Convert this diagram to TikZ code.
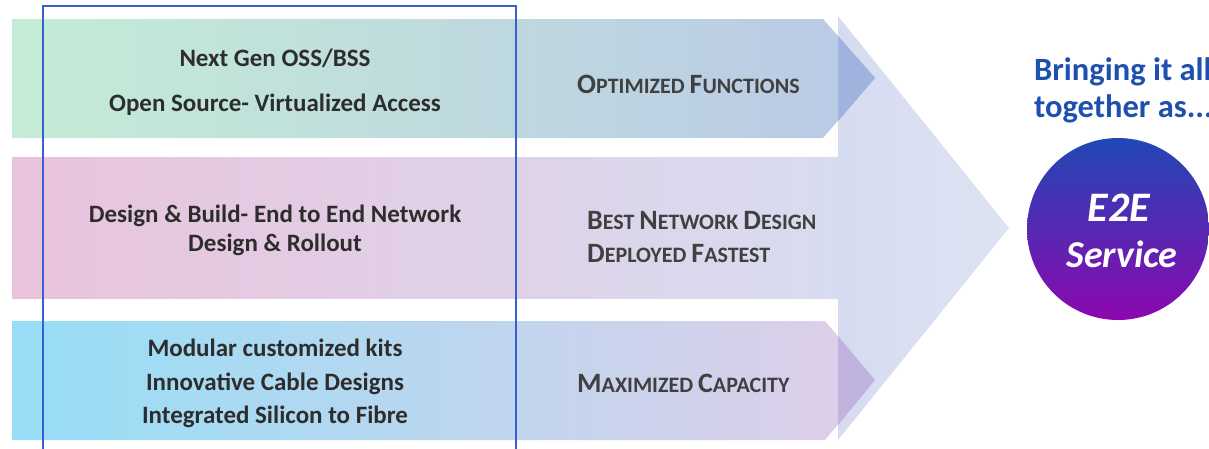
\documentclass[tikz,border=0pt]{standalone}
\usepackage{fontspec}
\setmainfont{Carlito}
\definecolor{topL}{RGB}{196,236,214}
\definecolor{topR}{RGB}{186,201,230}
\definecolor{topTip}{RGB}{160,178,222}
\definecolor{midL}{RGB}{233,195,220}
\definecolor{midR}{RGB}{216,220,240}
\definecolor{triL}{RGB}{214,220,240}
\definecolor{triR}{RGB}{222,227,243}
\definecolor{botL}{RGB}{150,222,246}
\definecolor{botM}{RGB}{196,204,236}
\definecolor{botR}{RGB}{224,206,232}
\definecolor{botTip}{RGB}{192,180,222}
\definecolor{frameC}{RGB}{55,95,205}
\definecolor{txtC}{RGB}{45,45,45}
\definecolor{scC}{RGB}{64,64,64}
\definecolor{titleC}{RGB}{30,80,175}
\definecolor{cTop}{RGB}{33,72,180}
\definecolor{cBot}{RGB}{140,8,175}
\newcommand\fsc[2]{{\fontsize{28}{28}\selectfont #1}{\fontsize{22}{22}\selectfont #2}}
\tikzset{
  lefttxt/.style={anchor=base, text=txtC, font=\bfseries\fontsize{25}{28}\selectfont, inner sep=0},
  sctxt/.style={anchor=base west, text=scC, font=\bfseries\fontsize{22}{26}\selectfont, inner sep=0},
  titletxt/.style={anchor=base west, text=titleC, font=\bfseries\fontsize{32.5}{35}\selectfont, inner sep=0},
  circtxt/.style={anchor=base, text=white, inner sep=0},
}
\begin{document}
\begin{tikzpicture}[x=1pt,y=-1pt]
\useasboundingbox (0,0) rectangle (1209,448);
\clip (0,0) rectangle (1209,448);
% big arrow head
\shade[left color=triL, right color=triR] (838,16) -- (1009,228) -- (838,440) -- cycle;
% middle band
\shade[left color=midL, right color=midR] (12,157) rectangle (838,298);
% top arrow
\shade[left color=topL, right color=topR] (12,19) -- (823,19) -- (875,78) -- (823,138) -- (12,138) -- cycle;
\fill[topTip] (838,36) -- (875,78) -- (838,121) -- cycle;
% bottom arrow
\shade[left color=botL, middle color=botM, right color=botR] (12,321) -- (825,321) -- (875,380) -- (825,440) -- (12,440) -- cycle;
\fill[botTip] (838,336) -- (875,380) -- (838,425) -- cycle;
% left texts
\node[lefttxt] (t1) at (275,66) {Next Gen OSS/BSS};
\node[lefttxt] (t2) at (275,111) {Open Source- Virtualized Access};
\node[lefttxt] (m1) at (275,222) {Design \& Build- End to End Network};
\node[lefttxt] (m2) at (275,251) {Design \& Rollout};
\node[lefttxt] (b1) at (275,356) {Modular customized kits};
\node[lefttxt] (b2) at (275,390) {Innovative Cable Designs};
\node[lefttxt] (b3) at (275,423) {Integrated Silicon to Fibre};
% small caps texts
\node[sctxt] (s1) at (577,93) {\fsc{O}{PTIMIZED} \fsc{F}{UNCTIONS}};
\node[sctxt] (s2) at (587,229) {\fsc{B}{EST} \fsc{N}{ETWORK} \fsc{D}{ESIGN}};
\node[sctxt] (s3) at (587,262) {\fsc{D}{EPLOYED} \fsc{F}{ASTEST}};
\node[sctxt] (s4) at (577,392) {\fsc{M}{AXIMIZED} \fsc{C}{APACITY}};
% frame
\draw[frameC, line width=1.3pt] (43,6) rectangle (516,452);
% right side
\node[titletxt] (h1) at (1034,80) {Bringing it all};
\node[titletxt] (h2) at (1034,117) {together as...};
\node[circle, minimum size=182pt, inner sep=0, top color=cTop, bottom color=cBot] (e2e) at (1118,229) {};
\node[circtxt, font=\bfseries\itshape\fontsize{42}{46}\selectfont] (e1) at (1119,221) {E2E};
\node[circtxt, font=\bfseries\itshape\fontsize{38}{42}\selectfont] (e2) at (1122,267) {Service};
\end{tikzpicture}
\end{document}
